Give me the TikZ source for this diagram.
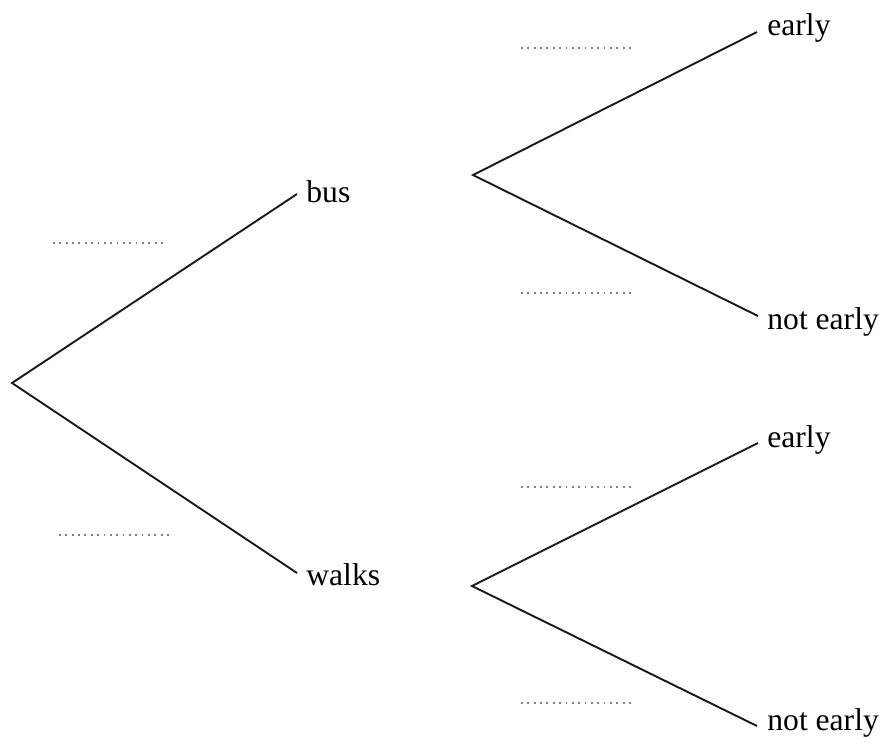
\documentclass[tikz,border=0pt]{standalone}
\usepackage{fontspec}
\setmainfont{Liberation Serif}
\tikzset{
    branch/.style={line width=0.95pt, black!90},
    blank/.style={line width=0.9pt, gray, dash pattern=on 0.9pt off 2.28pt},
    lbl/.style={anchor=base west, inner sep=0pt, font=\fontsize{15.8}{18}\selectfont}
}
\begin{document}
\begin{tikzpicture}[x=0.5pt, y=-0.5pt]
    \useasboundingbox (0, 0) rectangle (885, 746);
    % branch points
    \coordinate (root) at (12, 383);
    \coordinate (bus) at (297, 194);
    \coordinate (walks) at (297, 573);
    \coordinate (busfork) at (473, 175);
    \coordinate (walkfork) at (472, 586);
    \coordinate (bearly) at (757, 32);
    \coordinate (bnot) at (758, 316);
    \coordinate (wearly) at (758, 443);
    \coordinate (wnot) at (757, 726);
    % branches
    \draw[branch] (bus) -- (root) -- (walks);
    \draw[branch] (bearly) -- (busfork) -- (bnot);
    \draw[branch] (wearly) -- (walkfork) -- (wnot);
    % labels
    \node[lbl] (buslbl) at (306, 202) {bus};
    \node[lbl] (walkslbl) at (306, 585) {walks};
    \node[lbl] (bearlylbl) at (767, 35) {early};
    \node[lbl] (bnotlbl) at (767, 329) {not early};
    \node[lbl] (wearlylbl) at (767, 447) {early};
    \node[lbl] (wnotlbl) at (767, 730) {not early};
    % blanks for the probabilities
    \draw[blank] (53, 243) -- ++(112, 0);
    \draw[blank] (59, 535) -- ++(112, 0);
    \draw[blank] (521, 48) -- ++(112, 0);
    \draw[blank] (521, 293) -- ++(112, 0);
    \draw[blank] (521, 487) -- ++(112, 0);
    \draw[blank] (521, 703) -- ++(112, 0);
\end{tikzpicture}
\end{document}
